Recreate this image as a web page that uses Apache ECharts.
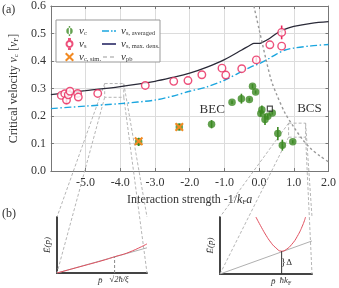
<!DOCTYPE html>
<html><head><meta charset="utf-8">
<script src="https://cdn.jsdelivr.net/npm/echarts@6/dist/echarts.min.js"></script>
<style>html,body{margin:0;padding:0;background:#fff}#c{width:339px;height:288px}</style>
</head><body><div id="c"></div>
<script>
// ---- data ----
const vcX   = [-3.47,-2.30,-1.37,-0.78,-0.51,-0.28,-0.19,-0.10,0.05,0.08,0.17,0.25,0.38,0.54,0.67,0.97];
const vcY   = [0.106,0.160,0.170,0.250,0.263,0.260,0.308,0.287,0.209,0.223,0.187,0.199,0.211,0.136,0.094,0.106];
const vcErr = [0.015,0.012,0.015,0.006,0.018,0.006,0.008,0.006,0.010,0.015,0.020,0.008,0.006,0.024,0.020,0.006];

const vsX   = [-5.70,-5.60,-5.55,-5.50,-5.45,-5.23,-5.21,-4.65,-3.28,-2.46,-2.05,-1.65,-1.07,-0.96,-0.50,-0.08,0.31,0.65,0.65];
const vsY   = [0.275,0.281,0.258,0.277,0.290,0.282,0.269,0.282,0.311,0.326,0.329,0.350,0.374,0.349,0.372,0.404,0.459,0.504,0.454];
const vsErr = [0,0.005,0.015,0,0.006,0.012,0,0,0,0,0,0,0,0,0,0.010,0,0.025,0];

const simX = [-3.47,-2.30];
const simY = [0.108,0.160];

const sqX = [0.31];
const sqY = [0.227];

const curveX = [-6,-5,-4,-3,-2.5,-2,-1.5,-1,-0.5,-0.25,-0.15,0,0.05,0.3,0.5,0.75,1,1.5,2];
const vsMax  = [0.278,0.292,0.307,0.326,0.340,0.356,0.378,0.405,0.440,0.458,0.464,0.464,0.465,0.482,0.500,0.516,0.526,0.537,0.543];
const vsAvg  = [0.227,0.236,0.245,0.258,0.272,0.290,0.306,0.330,0.362,0.378,0.383,0.390,0.393,0.410,0.425,0.440,0.447,0.455,0.460];

const pbX = [-0.15,0,0.1,0.2,0.35,0.5,0.75,1.0,1.25,1.5,1.75,2.0];
const pbY = [0.600,0.515,0.460,0.405,0.330,0.280,0.210,0.160,0.115,0.080,0.055,0.033];

const xTicks = {min:-6, max:2, step:1};
const yTicks = {min:0, max:0.6, step:0.1};

// inset (b) schematic curves, normalised 0..1 units
const bogX = [0,0.25,0.5,0.64,0.8,1.0];
const bogY = [0,0.11,0.22,0.29,0.37,0.52];
const linLX = [0,1]; const linLY = [0,0.45];
const bcsX = [0.39,0.45,0.5,0.55,0.6,0.67,0.72,0.78,0.84,0.9,0.93];
const bcsY = [1.0,0.82,0.68,0.56,0.47,0.40,0.43,0.52,0.66,0.86,1.0];
const linRX = [0,1]; const linRY = [0,0.58];
const healingX = 0.64, healingY = 0.29;
const kfX = 0.67, gapY = 0.40;

// zoom boxes in main-plot data coordinates
const box1 = {x0:-4.45, x1:-3.9, y0:0.268, y1:0.318};
const box2 = {x0:0.85, x1:1.34, y0:0.123, y1:0.174};

const serif = "'Liberation Serif','DejaVu Serif',serif";
const C = {green:'#3c8a23', red:'#e8265a', orange:'#f28a22', blue:'#1ba6df', navy:'#1c1c5c', gray:'#9a9a9a'};

const zip = (a,b)=>a.map((v,i)=>[v,b[i]]);
function rich(sz, subSz){
  subSz = subSz || Math.round(sz*0.62);
  return {
    n:{fontFamily:serif, fontSize:sz, color:'#333'},
    v:{fontFamily:serif, fontStyle:'italic', fontSize:sz, color:'#333'},
    s:{fontFamily:serif, fontSize:subSz, color:'#333', padding:[Math.round(sz*0.45),0,0,0]}
  };
}
function errSeries(xs, ys, es, color){
  const d = [];
  xs.forEach((x,i)=>{ if(es[i]>0) d.push([x, ys[i]-es[i], ys[i]+es[i]]); });
  return {type:'custom', xAxisIndex:0, yAxisIndex:0, z:3, silent:true, data:d, encode:{x:0,y:[1,2]},
    renderItem:(p,api)=>{
      const a = api.coord([api.value(0), api.value(1)]);
      const b = api.coord([api.value(0), api.value(2)]);
      return {type:'line', shape:{x1:a[0],y1:a[1],x2:b[0],y2:b[1]}, style:{stroke:color, lineWidth:1.6}};
    }};
}

const chart = echarts.init(document.getElementById('c'), null, {renderer:'canvas'});
const legendNames = {
  vc:'{v|v}{s|c}', vs:'{v|v}{s|s}', vcsim:'{v|v}{s|c, sim.}',
  vsavg:'{v|v}{s|s, averaged}', vsmax:'{v|v}{s|s, max. dens.}', vpb:'{v|v}{s|pb}'
};
const legText = {fontFamily:serif, fontSize:11, color:'#333', lineHeight:12, rich:rich(11, 6.5)};
const insetAxis = (gi)=>({gridIndex:gi, type:'value', min:0, max:1, show:true,
  axisLine:{show:true, lineStyle:{color:'#444', width:2}}, axisTick:{show:false},
  axisLabel:{show:false}, splitLine:{show:false}});

const option = {
  animation:false,
  grid:[
    {left:37, right:8, top:5, bottom:117, show:false},
    {left:57, top:217, width:90, height:56},
    {left:220, top:217, width:92, height:57}
  ],
  xAxis:[
    {gridIndex:0, type:'value', min:xTicks.min, max:xTicks.max, interval:xTicks.step,
      axisLine:{show:true, onZero:false, lineStyle:{color:'#777'}},
      axisTick:{show:true, inside:true, length:3, lineStyle:{color:'#777'}},
      axisLabel:{showMinLabel:false, fontFamily:serif, fontSize:12, color:'#333', margin:6, formatter:v=>v.toFixed(1)},
      splitLine:{show:true, lineStyle:{color:'#dcdcdc'}},
      name:'{n|Interaction strength -1/}{v|k}{s|F}{v|a}', nameLocation:'middle', nameGap:17,
      nameTextStyle:{rich:rich(12)}},
    {gridIndex:0, type:'value', position:'top', min:xTicks.min, max:xTicks.max, interval:xTicks.step,
      axisLine:{show:true, onZero:false, lineStyle:{color:'#777'}},
      axisTick:{show:true, inside:true, length:3, lineStyle:{color:'#777'}},
      axisLabel:{show:false}, splitLine:{show:false}},
    insetAxis(1), insetAxis(2)
  ],
  yAxis:[
    {gridIndex:0, type:'value', min:yTicks.min, max:yTicks.max, interval:yTicks.step,
      axisLine:{show:true, onZero:false, lineStyle:{color:'#777'}},
      axisTick:{show:true, inside:true, length:3, lineStyle:{color:'#777'}},
      axisLabel:{fontFamily:serif, fontSize:12, color:'#333', margin:5, formatter:v=>v.toFixed(1)},
      splitLine:{show:true, lineStyle:{color:'#dcdcdc'}},
      name:'{n|Critical velocity }{v|v}{s|c}{n| [}{v|v}{s|F}{n|]}', nameLocation:'middle', nameGap:23,
      nameTextStyle:{rich:rich(12)}},
    {gridIndex:0, type:'value', position:'right', min:yTicks.min, max:yTicks.max, interval:yTicks.step,
      axisLine:{show:true, onZero:false, lineStyle:{color:'#777'}},
      axisTick:{show:true, inside:true, length:3, lineStyle:{color:'#777'}},
      axisLabel:{show:false}, splitLine:{show:false}},
    insetAxis(1), insetAxis(2)
  ],
  legend:[
    {left:60, top:20, orient:'vertical', itemWidth:9, itemHeight:10, itemGap:1,
      textStyle:legText, formatter:n=>legendNames[n],
      data:[
        {name:'vc', icon:'path://M4.3,0h1.4v10h-1.4z M5,1.8a3.2,3.2 0 1,0 0.01,0z'},
        {name:'vs', icon:'path://M5,2a3,3 0 1,0 0.01,0z M4.5,0h1v2h-1z M4.5,8h1v2h-1z'},
        {name:'vcsim', icon:'path://M0,1.6L1.6,0L5,3.4L8.4,0L10,1.6L6.6,5L10,8.4L8.4,10L5,6.6L1.6,10L0,8.4L3.4,5Z'}
      ]},
    {left:97, top:20, orient:'vertical', itemWidth:14, itemHeight:10, itemGap:1,
      textStyle:legText, formatter:n=>legendNames[n],
      data:[
        {name:'vsavg', icon:'path://M0,0h0.01v0.01h-0.01z M0,4.3h7v1.4h-7z M9,4.3h1.6v1.4h-1.6z M12,4.3h2v1.4h-2z M14,10h0.01v0.01h-0.01z'},
        {name:'vsmax', icon:'path://M0,0h0.01v0.01h-0.01z M0,4.2h14v1.6h-14z M14,10h0.01v0.01h-0.01z'},
        {name:'vpb', icon:'path://M0,0h0.01v0.01h-0.01z M1,4.4h4v1.2h-4z M8,4.4h4v1.2h-4z M14,10h0.01v0.01h-0.01z'}
      ]}
  ],
  series:[
    {name:'vsavg', type:'line', xAxisIndex:0, yAxisIndex:0, data:zip(curveX,vsAvg), symbol:'none', smooth:0.3,
      lineStyle:{color:C.blue, width:1.4, type:[7,2.5,1.5,2.5]}, itemStyle:{color:C.blue}, z:2},
    {name:'vsmax', type:'line', xAxisIndex:0, yAxisIndex:0, data:zip(curveX,vsMax), symbol:'none', smooth:0.3,
      lineStyle:{color:'#2a2a38', width:1.3}, itemStyle:{color:C.navy}, z:2},
    {name:'vpb', type:'line', xAxisIndex:0, yAxisIndex:0, data:zip(pbX,pbY), symbol:'none', smooth:0.3,
      lineStyle:{color:C.gray, width:1.4, type:[2.5,2.5]}, itemStyle:{color:C.gray}, z:2},
    errSeries(vcX, vcY, vcErr, C.green),
    errSeries(vsX, vsY, vsErr, C.red),
    {name:'vc', type:'scatter', xAxisIndex:0, yAxisIndex:0, data:zip(vcX,vcY), symbol:'circle', symbolSize:7.5,
      itemStyle:{color:C.green}, z:4},
    {name:'vs', type:'scatter', xAxisIndex:0, yAxisIndex:0, data:zip(vsX,vsY), symbol:'circle', symbolSize:7.5,
      itemStyle:{color:'#fff', borderColor:C.red, borderWidth:1.4}, z:4},
    {name:'vcsim', type:'scatter', xAxisIndex:0, yAxisIndex:0, data:zip(simX,simY),
      symbol:'path://M0,1.6L1.6,0L5,3.4L8.4,0L10,1.6L6.6,5L10,8.4L8.4,10L5,6.6L1.6,10L0,8.4L3.4,5Z', symbolSize:9,
      itemStyle:{color:C.orange, opacity:1}, z:6},
    {name:'sq', type:'scatter', xAxisIndex:0, yAxisIndex:0, data:zip(sqX,sqY), symbol:'rect', symbolSize:5,
      itemStyle:{color:'#fff', borderColor:'#222', borderWidth:1.2}, z:5},
    // inset left
    {type:'line', xAxisIndex:2, yAxisIndex:2, data:zip(linLX,linLY), symbol:'none', lineStyle:{color:'#b0b0b0', width:1}},
    {type:'line', xAxisIndex:2, yAxisIndex:2, data:zip(bogX,bogY), symbol:'none', smooth:true, lineStyle:{color:'#e0505f', width:1}},
    {type:'line', xAxisIndex:2, yAxisIndex:2, data:[[healingX,0],[healingX,healingY]], symbol:'none', lineStyle:{color:'#888', width:1, type:[3,2]}},
    // inset right
    {type:'line', xAxisIndex:3, yAxisIndex:3, data:zip(linRX,linRY), symbol:'none', lineStyle:{color:'#b0b0b0', width:1}},
    {type:'line', xAxisIndex:3, yAxisIndex:3, data:zip(bcsX,bcsY), symbol:'none', smooth:true, lineStyle:{color:'#e0505f', width:1}},
    {type:'line', xAxisIndex:3, yAxisIndex:3, data:[[kfX,0],[kfX,gapY]], symbol:'none', lineStyle:{color:'#333', width:1}}
  ]
};
chart.setOption(option);

// ---- annotations positioned through the axes ----
const P0 = (x,y)=>chart.convertToPixel({xAxisIndex:0, yAxisIndex:0}, [x,y]);
const P1 = (x,y)=>chart.convertToPixel({xAxisIndex:2, yAxisIndex:2}, [x,y]);
const P2 = (x,y)=>chart.convertToPixel({xAxisIndex:3, yAxisIndex:3}, [x,y]);
const dash = {stroke:'#b5b5b5', lineWidth:1, lineDash:[3,2], fill:null};
const g = [];
function seg(a,b){ g.push({type:'line', shape:{x1:a[0],y1:a[1],x2:b[0],y2:b[1]}, style:dash, z:1, silent:true}); }
function zoomBox(bx, P){
  const tl=P0(bx.x0,bx.y1), tr=P0(bx.x1,bx.y1), bl=P0(bx.x0,bx.y0), br=P0(bx.x1,bx.y0);
  g.push({type:'rect', shape:{x:tl[0], y:tl[1], width:tr[0]-tl[0], height:bl[1]-tl[1]}, style:dash, z:1, silent:true});
  seg(tl, P(0,1)); seg(tr, P(1,1)); seg(bl, P(0,0)); seg(br, P(1,0));
}
zoomBox(box1, P1); zoomBox(box2, P2);

const txt = (x,y,t,opt)=>g.push(Object.assign({type:'text', x:x, y:y, z:6, silent:true,
  style:Object.assign({text:t, font:'12px '+serif, fill:'#333'}, opt||{})}));
txt(2,4,'(a)');
txt(2,208,'(b)');
let p = P0(-1.35,0.225); txt(p[0],p[1],'BEC',{font:'13px '+serif, textAlign:'center', textVerticalAlign:'middle'});
p = P0(1.45,0.227); txt(p[0],p[1],'BCS',{font:'13px '+serif, textAlign:'center', textVerticalAlign:'middle'});

// legend frame
g.push({type:'rect', shape:{x:56, y:20, width:104, height:42}, style:{stroke:'#999', fill:'#fff', lineWidth:1}, z:3, silent:true});

// inset labels
const small = {font:'italic 9px '+serif, textAlign:'center', textVerticalAlign:'top'};
p = P1(0.48,0); txt(p[0],p[1]+3,'p\u0304',small);
p = P1(0.69,0); txt(p[0],p[1]+2,'\u221A2\u0127/\u03BE',{font:'italic 8.5px '+serif, textAlign:'center', textVerticalAlign:'top'});
p = P2(0.58,0); txt(p[0],p[1]+3,'p\u0304',small);
p = P2(0.71,0); g.push({type:'text', x:p[0], y:p[1]+2, z:6, silent:true, style:{text:'{v|\u0127k}{s|F}', textAlign:'center', textVerticalAlign:'top', rich:{v:{font:'italic 9px '+serif, fill:'#333'}, s:{font:'6px '+serif, fill:'#333', padding:[4,0,0,0]}}}});
p = P2(0.72,0.2); txt(p[0],p[1],'\u0394',{font:'9px '+serif, textVerticalAlign:'middle'});
p = P2(0.69,0.2); txt(p[0],p[1],'}',{font:'10px '+serif, textVerticalAlign:'middle', textAlign:'center'});
const ylab = (P)=>{ const q=P(0,0.5); g.push({type:'text', x:q[0]-9, y:q[1], rotation:Math.PI/2, z:6, silent:true,
  style:{text:'\u0112(p\u0304)', font:'italic 9px '+serif, fill:'#333', textAlign:'center', textVerticalAlign:'middle'}}); };
ylab(P1); ylab(P2);

chart.setOption({graphic:g});
</script></body></html>
